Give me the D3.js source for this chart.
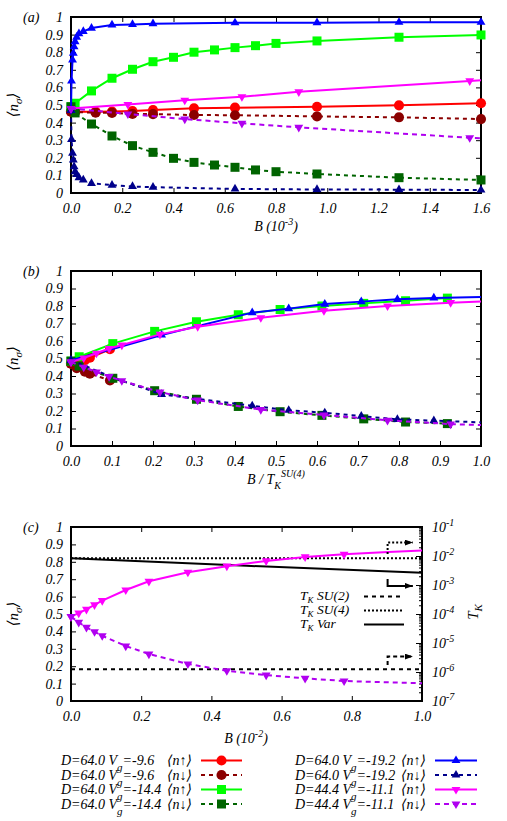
<!DOCTYPE html>
<html>
<head>
<meta charset="utf-8">
<script src="https://cdn.jsdelivr.net/npm/d3@7/dist/d3.min.js"></script>
<style>
  body { margin: 0; background: #fff; }
  svg text { font-family: "Liberation Serif", "DejaVu Serif", serif; font-style: italic; font-size: 14px; fill: #000; }
</style>
</head>
<body>
<svg id="chart" width="507" height="821"></svg>
<script>
// ---- panel (a): <n_sigma> against B (10^-3)
const aRedB = [0, 0.016, 0.096, 0.16, 0.24, 0.32, 0.48, 0.64, 0.96, 1.28, 1.6];
const aRedUp = [0.462, 0.462, 0.462, 0.463, 0.466, 0.471, 0.481, 0.485, 0.49, 0.498, 0.51];
const aRedDn = [0.462, 0.46, 0.456, 0.455, 0.449, 0.448, 0.443, 0.442, 0.435, 0.43, 0.42];

const aGrnB = [0, 0.016, 0.08, 0.16, 0.24, 0.32, 0.40, 0.48, 0.56, 0.64, 0.72, 0.80, 0.96, 1.28, 1.6];
const aGrnUp = [0.49, 0.51, 0.58, 0.652, 0.703, 0.746, 0.771, 0.80, 0.813, 0.826, 0.837, 0.85, 0.864, 0.885, 0.898];
const aGrnDn = [0.49, 0.455, 0.392, 0.324, 0.269, 0.231, 0.197, 0.174, 0.159, 0.146, 0.131, 0.121, 0.108, 0.087, 0.074];

const aBluB = [0, 0.002, 0.006, 0.009, 0.012, 0.016, 0.022, 0.031, 0.048, 0.08, 0.16, 0.24, 0.32, 0.64, 0.96, 1.28, 1.6];
const aBluUp = [0.47, 0.636, 0.756, 0.794, 0.831, 0.86, 0.885, 0.905, 0.918, 0.937, 0.955, 0.958, 0.962, 0.967, 0.968, 0.97, 0.97];
const aBluDn = [0.47, 0.305, 0.226, 0.188, 0.15, 0.121, 0.105, 0.087, 0.074, 0.055, 0.045, 0.037, 0.033, 0.023, 0.02, 0.019, 0.017];

const aMagB = [0, 0.222, 0.444, 0.667, 0.889, 1.556, 1.6];
const aMagUp = [0.48, 0.503, 0.527, 0.547, 0.575, 0.637, 0.641];
const aMagDn = [0.48, 0.449, 0.42, 0.396, 0.373, 0.314, 0.31];
const aMagMk = [1, 1, 1, 1, 1, 1, 0];

// ---- panel (b): <n_sigma> against B / T_K^SU(4)
const bRedB = [0, 0.014, 0.034, 0.046, 0.095];
const bRedUp = [0.47, 0.478, 0.491, 0.504, 0.553];
const bRedDn = [0.47, 0.445, 0.425, 0.413, 0.375];

const bGrnB = [0, 0.02, 0.102, 0.204, 0.306, 0.408, 0.51, 0.612, 0.714, 0.816, 0.918];
const bGrnUp = [0.485, 0.51, 0.585, 0.655, 0.71, 0.75, 0.78, 0.80, 0.815, 0.83, 0.845];
const bGrnDn = [0.485, 0.457, 0.387, 0.316, 0.267, 0.226, 0.196, 0.175, 0.155, 0.137, 0.128];

const bBluB = [0, 0.11, 0.221, 0.442, 0.531, 0.619, 0.708, 0.796, 0.885, 1.0];
const bBluUp = [0.49, 0.56, 0.634, 0.762, 0.785, 0.811, 0.825, 0.838, 0.846, 0.852];
const bBluDn = [0.49, 0.385, 0.295, 0.23, 0.204, 0.19, 0.171, 0.152, 0.145, 0.135];
const bBluMk = [1, 0, 1, 1, 1, 1, 1, 1, 1, 0];

const bMagB = [0, 0.031, 0.062, 0.093, 0.124, 0.217, 0.309, 0.463, 0.617, 0.772, 0.926, 1.0];
const bMagUp = [0.48, 0.503, 0.53, 0.557, 0.577, 0.638, 0.682, 0.733, 0.773, 0.80, 0.819, 0.826];
const bMagDn = [0.48, 0.45, 0.423, 0.397, 0.373, 0.308, 0.262, 0.208, 0.177, 0.147, 0.125, 0.12];
const bMagMk = [1, 1, 1, 1, 1, 1, 1, 1, 1, 1, 1, 0];

// ---- panel (c): <n_sigma> against B (10^-2), T_K on right log axis
const cMagB = [0, 0.022, 0.044, 0.067, 0.089, 0.156, 0.222, 0.333, 0.444, 0.556, 0.667, 0.778, 0.889, 1.0];
const cMagUp = [0.485, 0.505, 0.527, 0.553, 0.577, 0.638, 0.688, 0.74, 0.775, 0.805, 0.828, 0.843, 0.855, 0.865];
const cMagDn = [0.485, 0.452, 0.423, 0.398, 0.375, 0.316, 0.27, 0.213, 0.174, 0.149, 0.13, 0.115, 0.108, 0.102];
const cMagMk = [1, 1, 1, 1, 1, 1, 1, 1, 1, 1, 1, 1, 0, 0];

const cTkB = [0, 0.5, 1.0];
const cTkSU2 = [1.25e-6, 1.25e-6, 1.25e-6];
const cTkSU4 = [8.3e-3, 8.3e-3, 8.3e-3];
const cTkVar = [8.3e-3, 4.6e-3, 2.65e-3];

// ---- ticks
const yTicks = [0, 0.1, 0.2, 0.3, 0.4, 0.5, 0.6, 0.7, 0.8, 0.9, 1];
const aXTicks = [0, 0.2, 0.4, 0.6, 0.8, 1.0, 1.2, 1.4, 1.6];
const bXTicks = [0, 0.1, 0.2, 0.3, 0.4, 0.5, 0.6, 0.7, 0.8, 0.9, 1.0];
const cXTicks = [0, 0.2, 0.4, 0.6, 0.8, 1.0];
const cTkTicks = [1e-7, 1e-6, 1e-5, 1e-4, 1e-3, 1e-2, 1e-1];

// ---- legend
const legD = ["64.0", "64.0", "64.0", "64.0", "64.0", "64.0", "44.4", "44.4"];
const legVg = ["-9.6", "-9.6", "-14.4", "-14.4", "-19.2", "-19.2", "-11.1", "-11.1"];
const legSpin = ["↑", "↓", "↑", "↓", "↑", "↓", "↑", "↓"];

const sty = [
  { color: "#ff0000", dash: null, sym: d3.symbolCircle, size: 80 },
  { color: "#8b0000", dash: "4,4", sym: d3.symbolCircle, size: 80 },
  { color: "#00ff00", dash: null, sym: d3.symbolSquare, size: 81 },
  { color: "#006400", dash: "4,4", sym: d3.symbolSquare, size: 81 },
  { color: "#0000ff", dash: null, sym: d3.symbolTriangle, size: 34 },
  { color: "#00008b", dash: "4,4", sym: d3.symbolTriangle, size: 34 },
  { color: "#ff00ff", dash: null, sym: d3.symbolTriangle, size: 34, flip: true },
  { color: "#b000f0", dash: "5,4", sym: d3.symbolTriangle, size: 34, flip: true }
];

const svg = d3.select("#chart");

svg.append("defs").append("marker")
  .attr("id", "head").attr("viewBox", "0 0 8 6")
  .attr("refX", 8).attr("refY", 3)
  .attr("markerUnits", "userSpaceOnUse")
  .attr("markerWidth", 8).attr("markerHeight", 6)
  .attr("orient", "auto")
  .append("path").attr("d", "M0,0L8,3L0,6Z").attr("fill", "#000");

const fmtX = d => d.toFixed(1);
const fmtY = d => (d === 0 ? "0" : d === 1 ? "1" : d.toFixed(1));
const clean = sel => { sel.select(".domain").remove(); sel.selectAll(".tick line").attr("stroke", "#000"); };

function setupPanel(p) {
  const g = svg.append("g");
  const x = d3.scaleLinear().domain(p.xDom).range([p.left, p.right]);
  const y = d3.scaleLinear().domain([0, 1]).range([p.bottom, p.top]);

  g.append("g").attr("transform", `translate(0,${p.bottom})`)
    .call(d3.axisBottom(x).tickValues(p.xTicks).tickSize(-5).tickPadding(10).tickFormat(fmtX)).call(clean);
  g.append("g").attr("transform", `translate(0,${p.top})`)
    .call(d3.axisTop(x).tickValues(p.xTicks).tickSize(-5).tickFormat("")).call(clean);
  g.append("g").attr("transform", `translate(${p.left},0)`)
    .call(d3.axisLeft(y).tickValues(yTicks).tickSize(-5).tickPadding(8).tickFormat(fmtY)).call(clean);
  if (p.mirrorY) {
    g.append("g").attr("transform", `translate(${p.right},0)`)
      .call(d3.axisRight(y).tickValues(yTicks).tickSize(-5).tickFormat("")).call(clean);
  }
  g.append("rect").attr("x", p.left).attr("y", p.top)
    .attr("width", p.right - p.left).attr("height", p.bottom - p.top)
    .attr("fill", "none").attr("stroke", "#000").attr("stroke-width", 2);

  g.append("text").attr("x", 23).attr("y", p.top + 5).text(p.tag);

  // <n_sigma> label
  const t = g.append("text").attr("text-anchor", "middle")
    .attr("transform", `translate(18,${(p.top + p.bottom) / 2}) rotate(-90)`)
    .style("font-size", "15px");
  t.append("tspan").text("⟨n");
  t.append("tspan").attr("dy", 4).style("font-size", "11px").text("σ");
  t.append("tspan").attr("dy", -4).text("⟩");

  return { g, x, y };
}

function drawSeries(P, B, v, s, mk) {
  const idx = d3.range(B.length);
  const line = d3.line().x(i => P.x(B[i])).y(i => P.y(v[i]));
  P.g.append("path").attr("d", line(idx))
    .attr("fill", "none").attr("stroke", s.color).attr("stroke-width", 2)
    .attr("stroke-dasharray", s.dash);
  const sym = d3.symbol().type(s.sym).size(s.size);
  P.g.selectAll(null).data(idx.filter(i => !mk || mk[i])).join("path")
    .attr("d", sym)
    .attr("transform", i => `translate(${P.x(B[i])},${P.y(v[i])})${s.flip ? " rotate(180)" : ""}`)
    .attr("fill", s.color);
}

function xLabel(x, y, parts) {
  const t = svg.append("text").attr("x", x).attr("y", y).attr("text-anchor", "middle");
  parts.forEach(([txt, dy, fs]) => {
    const sp = t.append("tspan").text(txt);
    if (dy) sp.attr("dy", dy);
    if (fs) sp.style("font-size", fs + "px");
  });
}

// ---- panel (a)
const A = setupPanel({ left: 71, right: 481, top: 17, bottom: 193, xDom: [0, 1.6], xTicks: aXTicks, mirrorY: true, tag: "(a)" });
drawSeries(A, aRedB, aRedUp, sty[0]);
drawSeries(A, aRedB, aRedDn, sty[1]);
drawSeries(A, aGrnB, aGrnUp, sty[2]);
drawSeries(A, aGrnB, aGrnDn, sty[3]);
drawSeries(A, aBluB, aBluUp, sty[4]);
drawSeries(A, aBluB, aBluDn, sty[5]);
drawSeries(A, aMagB, aMagUp, sty[6], aMagMk);
drawSeries(A, aMagB, aMagDn, sty[7], aMagMk);
xLabel(276, 231, [["B (10"], ["-3", -6, 10], [")", 6]]);

// ---- panel (b)
const Bp = setupPanel({ left: 71, right: 481, top: 271, bottom: 446, xDom: [0, 1], xTicks: bXTicks, mirrorY: true, tag: "(b)" });
drawSeries(Bp, bRedB, bRedUp, sty[0]);
drawSeries(Bp, bRedB, bRedDn, sty[1]);
drawSeries(Bp, bGrnB, bGrnUp, sty[2]);
drawSeries(Bp, bGrnB, bGrnDn, sty[3]);
drawSeries(Bp, bBluB, bBluUp, sty[4], bBluMk);
drawSeries(Bp, bBluB, bBluDn, sty[5], bBluMk);
drawSeries(Bp, bMagB, bMagUp, sty[6], bMagMk);
drawSeries(Bp, bMagB, bMagDn, sty[7], bMagMk);
xLabel(276, 484, [["B / T"], ["K", 5, 10], ["SU(4)", -12, 10], ["", 7]]);

// ---- panel (c)
const C = setupPanel({ left: 71, right: 422, top: 527, bottom: 701, xDom: [0, 1], xTicks: cXTicks, mirrorY: false, tag: "(c)" });
const yR = d3.scaleLog().domain([1e-7, 1e-1]).range([701, 527]);
const minor = [];
cTkTicks.slice(0, -1).forEach(d => { for (let k = 2; k <= 9; k++) minor.push(d * k); });
C.g.append("g").attr("transform", "translate(422,0)")
  .call(d3.axisRight(yR).tickValues(minor).tickSize(-3).tickFormat("")).call(clean);
C.g.append("g").attr("transform", "translate(422,0)")
  .call(d3.axisRight(yR).tickValues(cTkTicks).tickSize(-6).tickPadding(10).tickFormat(""))
  .call(clean)
  .selectAll(".tick text").each(function (d) {
    const t = d3.select(this).attr("dy", "0.32em");
    t.append("tspan").text("10");
    t.append("tspan").attr("dy", "-0.55em").style("font-size", "10px").text(String(Math.round(Math.log10(d))));
  });

const tkLine = d3.line().x((d, i) => C.x(cTkB[i])).y(d => yR(d));
[[cTkSU2, "4,4"], [cTkSU4, "2,2"], [cTkVar, null]].forEach(([vals, dash]) => {
  C.g.append("path").attr("d", tkLine(vals)).attr("fill", "none")
    .attr("stroke", "#000").attr("stroke-width", 2).attr("stroke-dasharray", dash);
});

drawSeries(C, cMagB, cMagUp, sty[6], cMagMk);
drawSeries(C, cMagB, cMagDn, sty[7], cMagMk);

// arrows pointing to the right T_K axis
const cArrows = [
  { x0: 0.902, x1: 0.974, y0: 0.0117, y1: 0.029, dash: "2,2" },
  { x0: 0.902, x1: 0.974, y0: 0.0016, y1: 0.00093, dash: null },
  { x0: 0.902, x1: 0.974, y0: 1.74e-6, y1: 3.4e-6, dash: "4,3" }
];
cArrows.forEach(a => {
  C.g.append("path")
    .attr("d", `M${C.x(a.x0)},${yR(a.y0)}V${yR(a.y1)}H${C.x(a.x1)}`)
    .attr("fill", "none").attr("stroke", "#000").attr("stroke-width", 2)
    .attr("stroke-dasharray", a.dash).attr("marker-end", "url(#head)");
});

// T_K legend inside (c)
const tkLeg = [["SU(2)", "4,4"], ["SU(4)", "2,2"], ["Var", null]];
tkLeg.forEach(([name, dash], i) => {
  const yb = 600 + i * 14;
  const t = C.g.append("text").attr("x", 300).attr("y", yb).style("font-size", "13.5px");
  t.append("tspan").text("T");
  t.append("tspan").attr("dy", 3).style("font-size", "9px").text("K");
  t.append("tspan").attr("dy", -3).text(" " + name);
  C.g.append("line").attr("x1", 364).attr("x2", 404).attr("y1", yb - 3.5).attr("y2", yb - 3.5)
    .attr("stroke", "#000").attr("stroke-width", 2).attr("stroke-dasharray", dash);
});

// right axis title T_K
const tk = svg.append("text").attr("text-anchor", "middle")
  .attr("transform", "translate(478,612) rotate(-90)").style("font-size", "15px");
tk.append("tspan").text("T");
tk.append("tspan").attr("dy", 4).style("font-size", "11px").text("K");

xLabel(246, 743, [["B (10"], ["-2", -6, 10], [")", 6]]);

// ---- bottom legend
legD.forEach((D, i) => {
  const col = i < 4 ? 0 : 1;
  const row = i % 4;
  const yb = 765 + row * 14.5;
  const tx = col ? 295 : 61;
  const tr = col ? 426 : 192;
  const l0 = col ? 435 : 201;
  const l1 = col ? 477 : 242;
  const t = svg.append("text").attr("x", tx).attr("y", yb);
  t.append("tspan").text(`D=${D} V`);
  t.append("tspan").attr("dy", 6).style("font-size", "11px").text("g");
  t.append("tspan").attr("dy", -6).text(`=${legVg[i]}`);
  svg.append("text").attr("x", tr).attr("y", yb).attr("text-anchor", "end").text(`⟨n${legSpin[i]}⟩`);
  const s = sty[i];
  const ly = yb - 4.5;
  svg.append("line").attr("x1", l0).attr("x2", l1).attr("y1", ly).attr("y2", ly)
    .attr("stroke", s.color).attr("stroke-width", 2).attr("stroke-dasharray", s.dash);
  svg.append("path").attr("d", d3.symbol().type(s.sym).size(s.size)())
    .attr("transform", `translate(${(l0 + l1) / 2},${ly})${s.flip ? " rotate(180)" : ""}`)
    .attr("fill", s.color);
});
</script>
</body>
</html>
